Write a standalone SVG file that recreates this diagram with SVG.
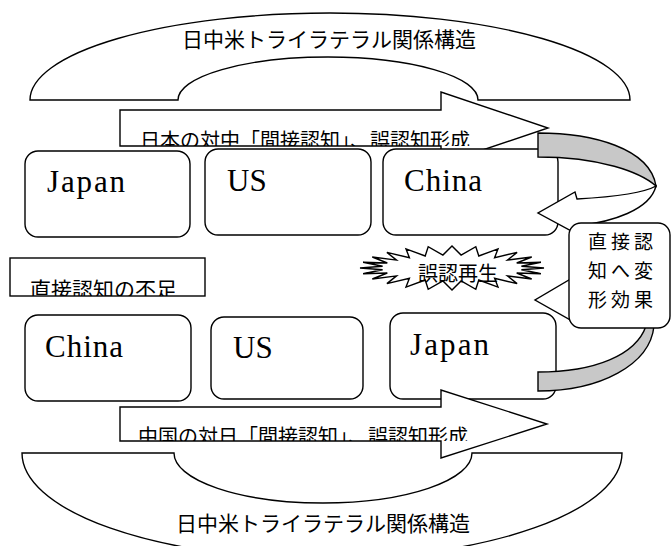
<svg xmlns="http://www.w3.org/2000/svg" width="672" height="546" viewBox="0 0 672 546">
<style>
.sh{fill:#fff;stroke:#000;stroke-width:1.4;stroke-linejoin:miter}
.bx{fill:#fff;stroke:#000;stroke-width:1.4}
.gr{fill:#c8c8c8;stroke:#000;stroke-width:1.4}
.jp{font-family:"Noto Sans CJK JP","Noto Sans",sans-serif;fill:#000}
.en{font-family:"Liberation Serif","Times New Roman",serif;font-size:31px;fill:#000}
</style>
<defs>
<clipPath id="clipTop"><rect x="120" y="108" width="400" height="38"/></clipPath>
<clipPath id="clipBot"><rect x="120" y="405" width="400" height="36"/></clipPath>
<clipPath id="clipLeft"><rect x="10" y="258" width="195" height="38"/></clipPath>
</defs>

<g id="arch-top">
<path class="sh" d="M30,100 A300,87 0 0 1 630,100 L478,100 A150,43 0 0 0 178,100 Z"/>
<text class="jp" x="329" y="47" font-size="21" text-anchor="middle">日中米トライラテラル関係構造</text>
</g>
<g id="arch-bottom">
<path class="sh" d="M22,453 L174,453 A149,50 0 0 0 472,453 L622,453 A300,106 0 0 1 22,453 Z"/>
<text class="jp" x="323" y="531" font-size="21" text-anchor="middle">日中米トライラテラル関係構造</text>
</g>

<g id="connectors">
<g id="arrow-top">
<polygon class="sh" points="120,110 441,110 441,92 548,128 441,164 441,146 120,146"/>
<text class="jp" x="140" y="148" font-size="20" clip-path="url(#clipTop)">日本の対中「間接認知」、誤認知形成</text>
</g>
</g>

<g id="node-japan-top">
<rect class="bx" x="25" y="151" width="165" height="86" rx="13"/>
<text class="en" x="47" y="192" textLength="78">Japan</text>
</g>
<g id="node-us-top">
<rect class="bx" x="205" y="149" width="166" height="86" rx="13"/>
<text class="en" x="227" y="191">US</text>
</g>
<g id="node-china-top">
<rect class="bx" x="383" y="149" width="175" height="86" rx="13"/>
<text class="en" x="404" y="191" textLength="78">China</text>
</g>

<g id="curved-arrow-top">
<path class="gr" d="M538,133 C592,133 650,148 656,186 C640,172 600,157 538,157 Z"/>
<path class="sh" d="M656,186 C650,210 612,222 577,226 L577,234 L538,213 L575,192 L577,199 C612,197 642,194 656,186 Z"/>
</g>

<g id="node-shortage">
<rect class="bx" x="10" y="258" width="195" height="38"/>
<text class="jp" x="30" y="297" font-size="21" clip-path="url(#clipLeft)">直接認知の不足</text>
</g>

<g id="node-burst">
<polygon class="sh" points="544,268 521.4,269.7 540.9,273.7 516.7,273 531.7,279 507.5,275.9 517.1,283.6 494.6,278.3 498,287.1 478.8,280 475.8,289.3 461.1,280.9 452,290 442.9,280.9 428.2,289.3 425.2,280 406,287.1 409.4,278.3 386.9,283.6 396.5,275.9 372.3,279 387.3,273 363.1,273.7 382.6,269.7 360,268 382.6,266.3 363.1,262.3 387.3,263 372.3,257 396.5,260.1 386.9,252.4 409.4,257.7 406,248.9 425.2,256 428.2,246.7 442.9,255.1 452,246 461.1,255.1 475.8,246.7 478.8,256 498,248.9 494.6,257.7 517.1,252.4 507.5,260.1 531.7,257 516.7,263 540.9,262.3 521.4,266.3"/>
<text class="jp" x="418" y="281" font-size="20">誤認再生</text>
</g>

<g id="node-china-bottom">
<rect class="bx" x="25" y="315" width="166" height="86" rx="13"/>
<text class="en" x="45" y="357" textLength="78">China</text>
</g>
<g id="node-us-bottom">
<rect class="bx" x="211" y="317" width="152" height="82" rx="13"/>
<text class="en" x="233" y="358">US</text>
</g>
<g id="node-japan-bottom">
<rect class="bx" x="390" y="313" width="166" height="86" rx="13"/>
<text class="en" x="410" y="355" textLength="79">Japan</text>
</g>

<g id="connectors-2">
<g id="arrow-bottom">
<polygon class="sh" points="120,407 441,407 441,390 547,424 441,458 441,441 120,441"/>
<text class="jp" x="138" y="444" font-size="20" clip-path="url(#clipBot)">中国の対日「間接認知」、誤認知形成</text>
</g>
<g id="curved-arrow-bottom">
<path class="sh" d="M654,326 C652,305 620,292 578,288 L574,277 L535,300 L574,322 L578,314 C615,316 640,320 646,326 Z"/>
<path class="gr" d="M538,372 C595,372 636,355 646,326 L654,326 C650,365 600,391 538,391 Z"/>
</g>
</g>

<g id="node-callout">
<rect class="bx" x="569" y="223" width="101" height="105" rx="12"/>
<text class="jp" font-size="19" letter-spacing="4">
<tspan x="588" y="249">直接認</tspan>
<tspan x="588" y="278">知へ変</tspan>
<tspan x="588" y="307">形効果</tspan>
</text>
</g>
</svg>
